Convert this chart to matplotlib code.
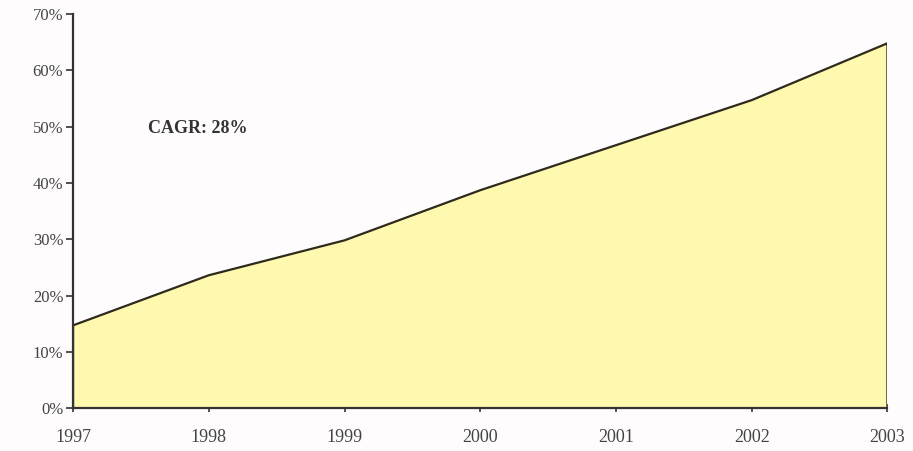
import numpy as np
import matplotlib.pyplot as plt
from matplotlib.ticker import FuncFormatter

years = [1997, 1998, 1999, 2000, 2001, 2002, 2003]
share = [14.7, 23.6, 29.8, 38.7, 46.7, 54.7, 64.8]
y_ticks = [0, 10, 20, 30, 40, 50, 60, 70]

plt.rcParams['font.family'] = ['Liberation Serif', 'DejaVu Serif']

fig = plt.figure(figsize=(9.13, 4.51), dpi=100)
fig.patch.set_facecolor('#fefcfd')
ax = fig.add_axes([0.080, 0.095, 0.892, 0.874])
ax.set_facecolor('#fefcfd')

# filled area with outline closing down to the axis
xs = [years[0]] + years + [years[-1]]
ys = [0] + share + [0]
ax.fill(xs, ys, facecolor='#fff9b0', edgecolor='#2e2a1c', linewidth=1.6, zorder=2)

ax.set_xlim(years[0], years[-1])
ax.set_ylim(0, 70)
ax.set_xticks(years)
ax.set_yticks(y_ticks)
ax.yaxis.set_major_formatter(FuncFormatter(lambda v, p: f'{int(v)}%'))

for s in ['top', 'right']:
    ax.spines[s].set_visible(False)
for s in ['left', 'bottom']:
    ax.spines[s].set_color('#333333')
    ax.spines[s].set_linewidth(1.6)
    ax.spines[s].set_zorder(3)

ax.tick_params(axis='y', direction='out', length=5, width=1.2, colors='#333333',
               labelcolor='#444444', labelsize=12, pad=2)
ax.tick_params(axis='x', direction='inout', length=6, width=1.2, colors='#333333',
               labelcolor='#444444', labelsize=13, pad=12)

ax.text(1997.55, 49.7, 'CAGR: 28%', fontsize=13, fontweight='bold', color='#333333',
        va='center', ha='left')

fig.savefig('out.png', dpi=100, facecolor=fig.get_facecolor())
